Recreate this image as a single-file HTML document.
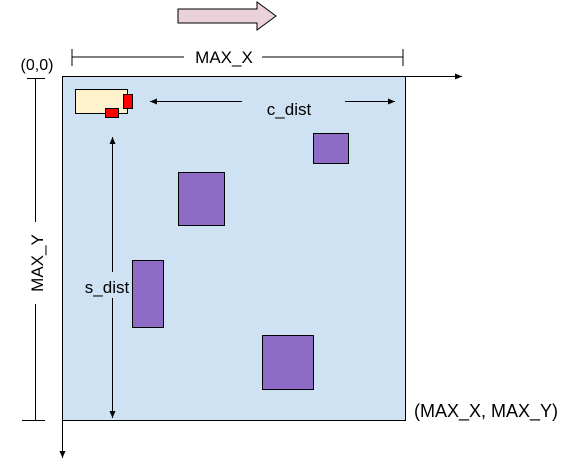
<!DOCTYPE html>
<html><head><style>body{margin:0;background:#fff}</style></head><body>
<svg width="572" height="466" viewBox="0 0 572 466" xmlns="http://www.w3.org/2000/svg" font-family="Liberation Sans, sans-serif">
<defs><marker id="a" markerWidth="8" markerHeight="8" refX="7" refY="4" orient="auto" markerUnits="userSpaceOnUse"><path d="M0,1 L7,4 L0,7 Z" fill="#000"/></marker></defs>
<path d="M178,9 H257 V2 L276,16 L257,30 V23 H178 Z" fill="#ead1dc" stroke="#000" stroke-width="1"/>
<line x1="72" y1="57" x2="184" y2="57" stroke="#000"/>
<line x1="262" y1="57" x2="403" y2="57" stroke="#000"/>
<line x1="72" y1="49" x2="72" y2="66" stroke="#000"/>
<line x1="403" y1="49" x2="403" y2="66" stroke="#000"/>
<text x="224" y="63" font-size="17" text-anchor="middle">MAX_X</text>
<text x="37" y="70" font-size="16" text-anchor="middle">(0,0)</text>
<rect x="62.5" y="76.5" width="343" height="344" fill="#cfe2f3" stroke="#000"/>
<line x1="62" y1="76.5" x2="462" y2="76.5" stroke="#000" marker-end="url(#a)"/>
<line x1="62.5" y1="76" x2="62.5" y2="458" stroke="#000" marker-end="url(#a)"/>
<line x1="35.5" y1="78" x2="35.5" y2="222" stroke="#000"/>
<line x1="35.5" y1="304" x2="35.5" y2="420" stroke="#000"/>
<line x1="27" y1="78.5" x2="45" y2="78.5" stroke="#000"/>
<line x1="22" y1="420.5" x2="45" y2="420.5" stroke="#000"/>
<text x="0" y="0" font-size="17" text-anchor="middle" transform="translate(43,263) rotate(-90)">MAX_Y</text>
<rect x="75.5" y="89.5" width="52" height="24" fill="#fff2cc" stroke="#000"/>
<rect x="123.5" y="94.5" width="9" height="14" fill="#f00" stroke="#000"/>
<rect x="105.5" y="108.5" width="13" height="9" fill="#f00" stroke="#000"/>
<line x1="242" y1="101.5" x2="150" y2="101.5" stroke="#000" marker-end="url(#a)"/>
<line x1="345" y1="101.5" x2="395" y2="101.5" stroke="#000" marker-end="url(#a)"/>
<text x="289" y="115" font-size="17" text-anchor="middle">c_dist</text>
<line x1="112.5" y1="272" x2="112.5" y2="137" stroke="#000" marker-end="url(#a)"/>
<line x1="112.5" y1="298" x2="112.5" y2="418" stroke="#000" marker-end="url(#a)"/>
<text x="107" y="293" font-size="17" text-anchor="middle">s_dist</text>
<g fill="#8e6cc6" stroke="#000">
<rect x="313.5" y="133.5" width="35" height="30"/>
<rect x="178.5" y="172.5" width="46" height="53"/>
<rect x="132.5" y="260.5" width="31" height="67"/>
<rect x="262.5" y="335.5" width="51" height="54"/>
</g>
<text x="414" y="417" font-size="18">(MAX_X, MAX_Y)</text>
</svg>
</body></html>
